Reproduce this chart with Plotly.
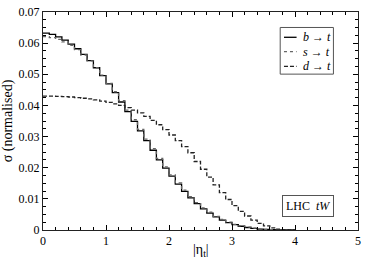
import plotly.graph_objects as go

bin_edges = [round(0.1 * i, 1) for i in range(41)]

b_to_t = [0.0632, 0.0628, 0.0620, 0.0610, 0.0597, 0.0582, 0.0564, 0.0544, 0.0521, 0.0496,
          0.0469, 0.0441, 0.0411, 0.0380, 0.0349, 0.0318, 0.0287, 0.0256, 0.0225, 0.0199,
          0.0173, 0.0147, 0.0124, 0.0103, 0.0085, 0.0068, 0.0054, 0.0042, 0.0032, 0.0024,
          0.0017, 0.0012, 0.0008, 0.0005, 0.0003, 0.0002, 0.0001, 0.00005, 0.0, 0.0]

s_to_t = [0.0621, 0.0618, 0.0612, 0.0604, 0.0593, 0.0579, 0.0562, 0.0543, 0.0521, 0.0497,
          0.0471, 0.0444, 0.0415, 0.0385, 0.0354, 0.0323, 0.0292, 0.0261, 0.0230, 0.0203,
          0.0177, 0.0151, 0.0128, 0.0107, 0.0088, 0.0071, 0.0057, 0.0044, 0.0034, 0.0025,
          0.0018, 0.0013, 0.0009, 0.0006, 0.0003, 0.0002, 0.0001, 0.00005, 0.0, 0.0]

d_to_t = [0.0430, 0.0430, 0.0429, 0.0428, 0.0427, 0.0425, 0.0423, 0.0421, 0.0418, 0.0414,
          0.0410, 0.0405, 0.0400, 0.0393, 0.0385, 0.0376, 0.0365, 0.0352, 0.0338, 0.0322,
          0.0305, 0.0287, 0.0268, 0.0248, 0.0220, 0.0195, 0.0170, 0.0145, 0.0120, 0.0098,
          0.0078, 0.0060, 0.0045, 0.0032, 0.0021, 0.0013, 0.0007, 0.0003, 0.0001, 0.0]

series_names = ["<i>b</i> → <i>t</i>", "<i>s</i> → <i>t</i>", "<i>d</i> → <i>t</i>"]
series_values = [b_to_t, s_to_t, d_to_t]
series_dash = ["solid", "dot", "4px,2px"]
series_color = ["black", "#666666", "#222222"]

x_ticks = [0, 1, 2, 3, 4, 5]
y_ticks = [0, 0.01, 0.02, 0.03, 0.04, 0.05, 0.06, 0.07]
y_tick_text = ["0", "0.01", "0.02", "0.03", "0.04", "0.05", "0.06", "0.07"]

fig = go.Figure()
for name, vals, dash, col in zip(series_names, series_values, series_dash, series_color):
    fig.add_trace(go.Scatter(
        x=bin_edges, y=vals + [vals[-1]], mode="lines", name=name,
        line=dict(shape="hv", dash=dash, color=col, width=1.3),
        showlegend=False,
    ))

font_serif = "Liberation Serif, Times New Roman, Times, serif"
fig.update_layout(
    width=366, height=262,
    margin=dict(l=40, r=6, t=5, b=32),
    paper_bgcolor="white", plot_bgcolor="white",
    font=dict(family=font_serif, size=12, color="black"),
    showlegend=False,
    xaxis=dict(range=[0, 5.00001], tickvals=x_ticks, ticks="inside", ticklen=5,
               tickcolor="black", showline=True, linecolor="#222222", linewidth=1,
               mirror="allticks", showgrid=False, zeroline=False,
               ticklabeloverflow="allow",
               minor=dict(dtick=0.2, ticks="inside", ticklen=3, tickcolor="black")),
    yaxis=dict(range=[0, 0.0700001], tickvals=y_ticks, ticktext=y_tick_text,
               ticks="inside", ticklen=5,
               tickcolor="black", showline=True, linecolor="#222222", linewidth=1,
               mirror="allticks", showgrid=False, zeroline=False,
               ticklabeloverflow="allow",
               minor=dict(dtick=0.0025, ticks="inside", ticklen=3, tickcolor="black"),
               title=dict(text="σ (normalised)", font=dict(size=14), standoff=4)),
)

# x-axis title as annotation (so it fits within the small bottom margin)
fig.add_annotation(x=0.5, y=-0.095, xref="paper", yref="paper",
                   text="|η<sub>t</sub>|", showarrow=False,
                   font=dict(size=14, family=font_serif), yanchor="middle")

# manual legend (compact, like the reference)
fig.add_shape(type="rect", xref="paper", yref="paper",
              x0=0.753, x1=0.922, y0=0.715, y1=0.929,
              line=dict(color="#555555", width=1), fillcolor="white", layer="above")
legend_rows = [0.884, 0.818, 0.751]
for name, dash, col, yr in zip(series_names, series_dash, series_color, legend_rows):
    fig.add_shape(type="line", xref="paper", yref="paper",
                  x0=0.765, x1=0.805, y0=yr, y1=yr,
                  line=dict(color=col, dash=dash, width=1.3), layer="above")
    fig.add_annotation(x=0.818, y=yr, xref="paper", yref="paper",
                       text=name, showarrow=False, xanchor="left", yanchor="middle",
                       font=dict(size=12, family=font_serif))

fig.add_annotation(x=4.2, y=0.0078, xref="x", yref="y",
                   text="LHC  <i>tW</i>", showarrow=False,
                   font=dict(size=12, family=font_serif),
                   bordercolor="#555555", borderwidth=1, borderpad=3, bgcolor="white")

fig.write_html("out.html", config={"displayModeBar": False},
               post_script="document.body.style.margin='0';document.body.style.padding='0';")
